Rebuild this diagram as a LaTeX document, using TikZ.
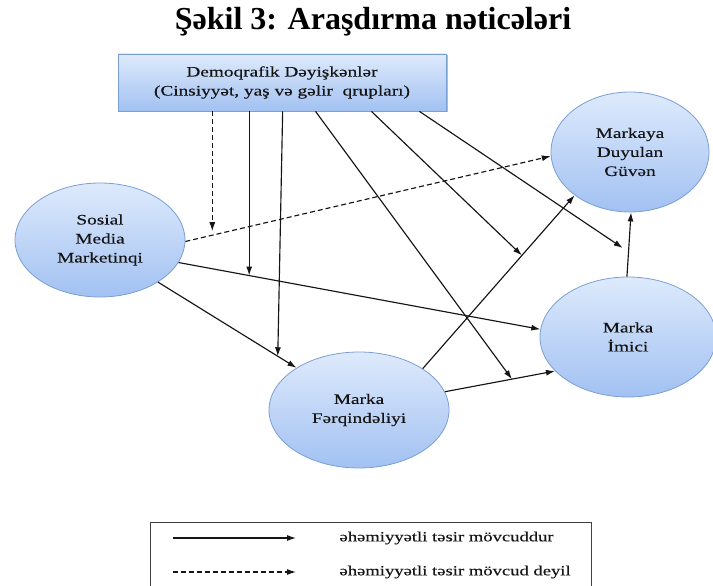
\documentclass[tikz,border=0pt]{standalone}
\usepackage{fontspec}
\setmainfont{Liberation Serif}
\newfontfamily\diagfont{Liberation Serif}[FakeStretch=1.33, FakeBold=0.35]
\usetikzlibrary{arrows.meta,shapes.geometric,calc,shadows}
\definecolor{nodeborder}{HTML}{7A9FD3}
\definecolor{nodetop}{HTML}{DEEAFC}
\definecolor{nodebottom}{HTML}{A2C1F2}
\definecolor{inkc}{HTML}{151515}
\begin{document}
\begin{tikzpicture}[x=1pt,y=-1pt,
  every node/.style={font=\diagfont\fontsize{14.5}{19}\selectfont, align=center, text=inkc},
  construct/.style={ellipse, draw=nodeborder, line width=0.8pt, top color=nodetop, bottom color=nodebottom, inner sep=0pt},
  demobox/.style={rectangle, draw=nodeborder, line width=0.8pt, top color=nodetop, bottom color=nodebottom,
    minimum width=328pt, minimum height=57pt, inner sep=0pt,
    drop shadow={shadow xshift=1.5pt, shadow yshift=-1.5pt, fill=black!45, opacity=0.6}},
  conn/.style={draw=inkc, line width=1.15pt, -{Latex[length=9pt,width=6pt]}},
  nosig/.style={conn, dash pattern=on 5pt off 3pt},
  legendtext/.style={anchor=west, font=\diagfont\fontsize{14}{17}\selectfont},
]
\useasboundingbox (0,0) rectangle (713,586);

% title
\node[font=\bfseries\fontsize{32}{38}\selectfont, text=black] (title) at (373,22) {Şəkil 3: Araşdırma nəticələri};

% nodes
\node[demobox] (demo) at (282,82.5) {Demoqrafik Dəyişkənlər\\(Cinsiyyət, yaş və gəlir\ \ qrupları)};
\node[construct, minimum width=170pt, minimum height=114pt] (smm) at (100,240) {Sosial\\Media\\Marketinqi};
\node[construct, minimum width=158pt, minimum height=120pt] (guv) at (630,152) {Markaya\\Duyulan\\Güvən};
\node[construct, minimum width=176pt, minimum height=120pt] (img) at (628,337) {Marka\\İmici};
\node[construct, minimum width=180pt, minimum height=116pt] (fer) at (359,410) {Marka\\Fərqindəliyi};

% main paths
\draw[nosig] (smm.-1) -- coordinate[pos=0.0737] (m1) (guv.183);
\draw[conn] (smm.-16) -- coordinate[pos=0.1953] (m2) (img.175);
\draw[conn] (smm.-36) -- coordinate[pos=0.865] (m3) (fer.146);
\draw[conn] (fer.12) -- coordinate[pos=0.609] (m4) (img.205);
\draw[conn] (fer.33) -- coordinate[pos=0.653] (m5) (guv.218);
\draw[conn] (img.91) -- coordinate[pos=0.385] (m6) (guv.271);

% moderating effects
\draw[nosig, shorten >=4pt] (m1 |- demo.south) -- (m1);
\draw[conn] (m2 |- demo.south) -- (m2);
\draw[conn] ($(demo.south west)!0.502!(demo.south east)$) -- (m3);
\draw[conn] ($(demo.south west)!0.602!(demo.south east)$) -- (m4);
\draw[conn] ($(demo.south west)!0.772!(demo.south east)$) -- (m5);
\draw[conn, shorten >=7pt] ($(demo.south west)!0.918!(demo.south east)$) -- (m6);

% legend
\draw[draw=black!75, line width=0.9pt] (150,587) -- (150,522) -- (591,522) -- (591,587);
\coordinate (l1a) at (173,538);
\coordinate (l1b) at (296,538);
\coordinate (l2a) at (173,572);
\coordinate (l2b) at (296,572);
\draw[conn] (l1a) -- (l1b);
\draw[nosig] (l2a) -- (l2b);
\node[legendtext] (t1) at (336,538) {əhəmiyyətli təsir mövcuddur};
\node[legendtext] (t2) at (336,572) {əhəmiyyətli təsir mövcud deyil};
\end{tikzpicture}
\end{document}
